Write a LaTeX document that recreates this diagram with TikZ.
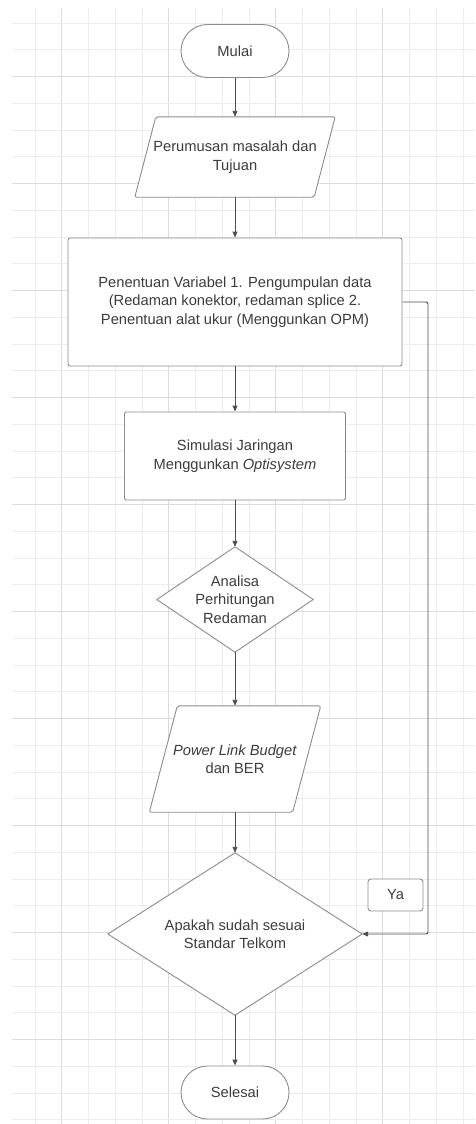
\documentclass[tikz,border=0pt]{standalone}
\usepackage{fontspec}
\setmainfont{Liberation Sans}
\usetikzlibrary{arrows.meta}
\definecolor{gminor}{HTML}{EDEDED}
\definecolor{gmajor}{HTML}{DBDBDB}
\definecolor{shpline}{HTML}{8C8C8C}
\definecolor{edgeline}{HTML}{4A4F55}
\definecolor{txt}{HTML}{3C3C3C}
\pgfdeclarelayer{gridlayer}
\pgfdeclarelayer{shapelayer}
\pgfsetlayers{gridlayer,shapelayer,main}
\tikzset{
  lbl/.style={text=txt, font=\fontsize{14.7}{18.5}\selectfont, align=center, inner sep=0pt},
  plainbox/.style={lbl, draw=none},
  rectbox/.style={lbl, draw=shpline, fill=white, line width=0.9pt, rounded corners=2pt},
  termbox/.style={lbl, draw=shpline, fill=white, line width=0.9pt, rounded corners=26.5pt, minimum width=108pt, minimum height=53pt},
  yabox/.style={lbl, draw=shpline, fill=white, line width=0.9pt, rounded corners=3pt, minimum width=55pt, minimum height=32pt},
  shp/.style={draw=shpline, fill=white, line width=0.9pt, line join=round},
  arr/.style={draw=edgeline, line width=0.9pt, -{Triangle[length=6pt,width=5pt]}},
  gmin/.style={draw=gminor, line width=0.8pt},
  gmaj/.style={draw=gmajor, line width=0.8pt}
}
\begin{document}
\begin{tikzpicture}[x=1pt,y=-1pt]
\useasboundingbox (0,0) rectangle (475,1124);
\begin{pgfonlayer}{gridlayer}
  \fill[white] (0,0) rectangle (475,1124);
  \foreach \k in {0,...,16} {
    \pgfmathtruncatemacro{\m}{mod(\k,4)}
    \ifnum\m=1 \draw[gmaj] ({35+26.75*\k},8) -- ({35+26.75*\k},1124);
    \else \draw[gmin] ({35+26.75*\k},8) -- ({35+26.75*\k},1124); \fi
  }
  \foreach \k in {0,...,41} {
    \pgfmathtruncatemacro{\m}{mod(\k,4)}
    \ifnum\m=2 \draw[gmaj] (12,{23+26.75*\k}) -- (475,{23+26.75*\k});
    \else \draw[gmin] (12,{23+26.75*\k}) -- (475,{23+26.75*\k}); \fi
  }
\end{pgfonlayer}

\node[termbox] (start) at (235,51) {Mulai};
\node[plainbox, minimum width=200pt, minimum height=80pt] (p1) at (235,157) {Perumusan masalah dan\\Tujuan};
\node[rectbox, minimum width=334pt, minimum height=128pt] (r1) at (235,302) {Penentuan Variabel 1. Pengumpulan data\\(Redaman konektor, redaman splice 2.\\Penentuan alat ukur (Menggunkan OPM)};
\node[rectbox, minimum width=221pt, minimum height=88pt] (r2) at (235,456) {Simulasi Jaringan\\Menggunkan \textit{Optisystem}};
\node[plainbox, minimum width=156pt, minimum height=105pt] (d1) at (235,599.5) {Analisa\\Perhitungan\\Redaman};
\node[plainbox, minimum width=171pt, minimum height=106pt] (p2) at (235,759) {\textit{Power Link Budget}\\dan BER};
\node[plainbox, minimum width=254pt, minimum height=162pt] (d2) at (235,934) {Apakah sudah sesuai\\Standar Telkom};
\node[termbox] (stop) at (235,1092.5) {Selesai};
\node[yabox] (ya) at (395.5,895) {Ya};

\begin{pgfonlayer}{shapelayer}
  \draw[shp, rounded corners=2pt] ([xshift=21pt]p1.north west) -- (p1.north east) -- ([xshift=-21pt]p1.south east) -- (p1.south west) -- cycle;
  \draw[shp, rounded corners=2pt] ([xshift=28pt]p2.north west) -- (p2.north east) -- ([xshift=-28pt]p2.south east) -- (p2.south west) -- cycle;
  \draw[shp] (d1.north) -- (d1.east) -- (d1.south) -- (d1.west) -- cycle;
  \draw[shp] (d2.north) -- (d2.east) -- (d2.south) -- (d2.west) -- cycle;
\end{pgfonlayer}

\coordinate (c1) at (428,302);
\coordinate (c2) at (428,934);

\draw[arr] (start.south) -- (p1.north);
\draw[arr] (p1.south) -- (r1.north);
\draw[arr] (r1.south) -- (r2.north);
\draw[arr] (r2.south) -- (d1.north);
\draw[arr] (d1.south) -- (p2.north);
\draw[arr] (p2.south) -- (d2.north);
\draw[arr] (d2.south) -- (stop.north);
\draw[arr, rounded corners=2pt] (r1.east) -- (c1) -- (c2) -- (d2.east);
\end{tikzpicture}
\end{document}
